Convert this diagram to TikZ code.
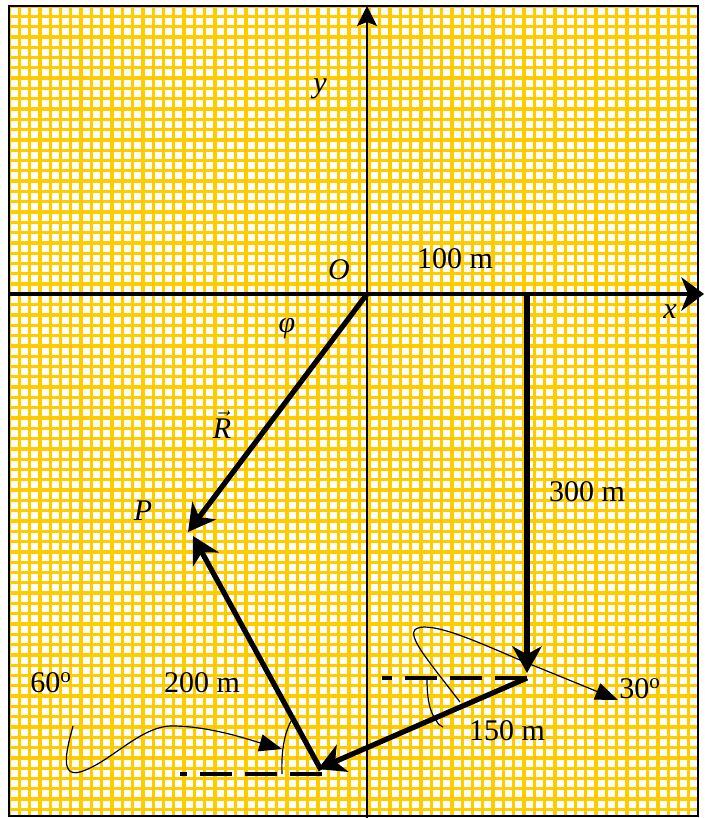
\documentclass[tikz,border=0pt]{standalone}
\usepackage{fontspec}
\setmainfont{Liberation Serif}
\usepackage{tikz}
\usetikzlibrary{arrows.meta}
\definecolor{GridGold}{HTML}{FFCC00}
\tikzset{
  gridline/.style={draw=GridGold,line width=2.5pt},
  frameline/.style={draw=black,line width=1.1pt},
  xaxis/.style={line width=3.7pt,-{Stealth[length=17pt,width=25pt,inset=5pt]}},
  yaxis/.style={line width=0.9pt,-{Stealth[length=15pt,width=15pt,inset=3pt]}},
  vecline/.style={line width=3.9pt,-{Stealth[length=20pt,width=22pt,inset=6pt]}},
  guide/.style={line width=2.9pt,dash pattern=on 24pt off 9.75pt},
  curly/.style={line width=0.9pt,-{Triangle[length=17pt,width=13pt]}},
  anglearc/.style={line width=0.9pt},
  lbl/.style={font=\fontsize{22.5}{27}\selectfont,inner sep=0pt}
}

\begin{document}
\begin{tikzpicture}[x=0.75pt,y={(0pt,-0.75pt)}]
  \useasboundingbox (0,0) rectangle (704,818);

  % paper grid
  \fill[white] (9,6) rectangle (698,816);
  \begin{scope}
    \clip (9,6) rectangle (698,816);
    \foreach \i in {0,...,67}
      \draw[gridline] ({9+10.3*\i},6) -- ({9+10.3*\i},816);
    \foreach \j in {0,...,79}
      \draw[gridline] (9,{6+10.3*\j}) -- (698,{6+10.3*\j});
  \end{scope}
  \draw[frameline] (9,6) rectangle (698,816);

  % points
  \coordinate (O) at (367,294);
  \coordinate (Xl) at (9,294);
  \coordinate (Xr) at (704,294);
  \coordinate (Ybot) at (367,818);
  \coordinate (Ytop) at (367,6);
  \coordinate (A) at (527,294);
  \coordinate (Btip) at (527,673);
  \coordinate (B) at (527,678);
  \coordinate (Bl) at (382,678);
  \coordinate (C) at (321,770);
  \coordinate (Ctip) at (318,769);
  \coordinate (Cl) at (180,774);
  \coordinate (Cr) at (322,774);
  \coordinate (Rtip) at (188,532);
  \coordinate (Ptip) at (193,536);

  % axes
  \draw[yaxis] (Ybot) -- (Ytop);
  \draw[xaxis] (Xl) -- (Xr);

  % dashed guides
  \draw[guide] (B) -- (Bl);
  \draw[guide] (Cr) -- (Cl);

  % displacements
  \draw[vecline] (A) -- (Btip);
  \draw[vecline] (B) -- (Ctip);
  \draw[vecline] (C) -- (Ptip);
  \draw[vecline] (O) -- (Rtip);

  % angle marks
  \draw[anglearc] (427,679) .. controls (427,700) and (430,712) .. (436,720)
                  .. controls (438,724) and (440,726) .. (443,727);
  \draw[anglearc] (282,774) .. controls (281,750) and (285,730) .. (293,718);
  \draw[curly] (460,702) .. controls (420,650) and (400,628) .. (424,627)
               .. controls (445,627) and (480,643) .. (520,660) -- (618,700);
  \draw[curly] (73,726) .. controls (68,745) and (58,778) .. (80,772)
               .. controls (110,763) and (140,726) .. (172,726)
               .. controls (210,726) and (250,740) .. (282,749);

  % labels
  \node[lbl] (ylbl) at (320,89) {\textit{y}};
  \node[lbl] (olbl) at (339,270) {\textit{O}};
  \node[lbl] (xlbl) at (670,312) {\textit{x}};
  \node[lbl] (d100) at (455,259) {100 m};
  \node[lbl] (phi) at (287,329) {\textit{φ}};
  \node[lbl] (rvec) at (222,425) {$\vec{\hbox{\itshape R}}$};
  \node[lbl] (plbl) at (143,511) {\textit{P}};
  \node[lbl] (d300) at (587,492) {300 m};
  \node[lbl] (a30) at (640,689) {30\textsuperscript{o}};
  \node[lbl] (d150) at (507,731) {150 m};
  \node[lbl] (a60) at (51,683) {60\textsuperscript{o}};
  \node[lbl] (d200) at (202,683) {200 m};
\end{tikzpicture}
\end{document}
